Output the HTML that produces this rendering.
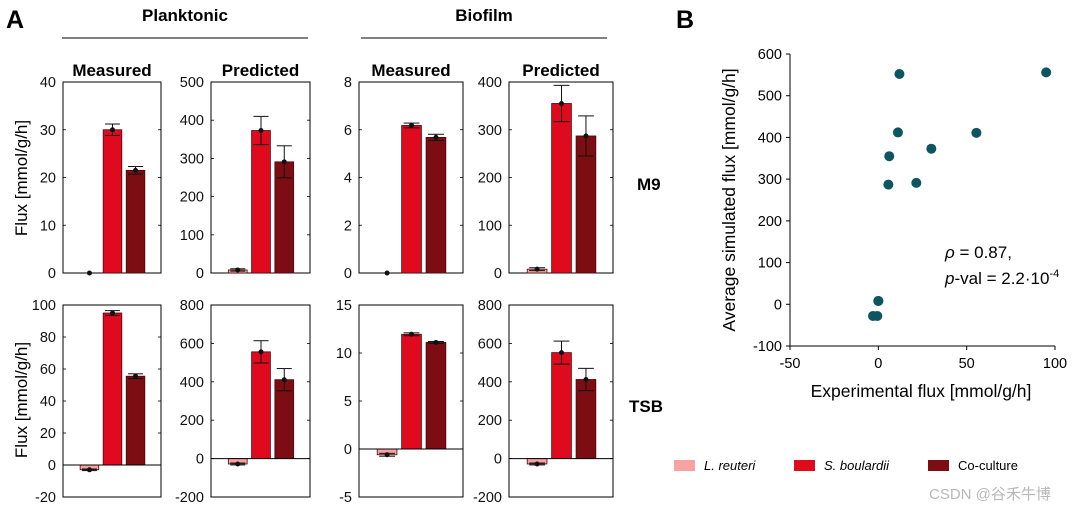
<!DOCTYPE html>
<html><head><meta charset="utf-8">
<style>
body{margin:0;background:#fff;}
svg{display:block;font-family:"Liberation Sans","Noto Sans CJK SC",sans-serif;}
</style></head>
<body>
<svg id="fig" width="1080" height="512" viewBox="0 0 1080 512" xmlns="http://www.w3.org/2000/svg">
<text x="6" y="28" font-size="25" font-weight="bold">A</text>
<text x="676" y="28" font-size="25" font-weight="bold">B</text>
<text x="185" y="21" font-size="17" font-weight="bold" text-anchor="middle">Planktonic</text>
<line x1="62" y1="38" x2="308" y2="38" stroke="#000" stroke-width="1"/>
<text x="484" y="21" font-size="17" font-weight="bold" text-anchor="middle">Biofilm</text>
<line x1="361" y1="38" x2="607" y2="38" stroke="#000" stroke-width="1"/>
<text x="637" y="190" font-size="17" font-weight="bold">M9</text>
<text x="629" y="412" font-size="17" font-weight="bold">TSB</text>
<text transform="translate(27,178) rotate(-90)" font-size="17" text-anchor="middle">Flux [mmol/g/h]</text>
<text transform="translate(27,400) rotate(-90)" font-size="17" text-anchor="middle">Flux [mmol/g/h]</text>
<g id="bars"></g>
<g id="scatter"></g>
<g>
<rect x="674" y="460" width="21" height="11" fill="#f7a3a1"/>
<text x="704" y="470" font-size="13" font-style="italic">L. reuteri</text>
<rect x="794" y="460" width="21" height="11" fill="#df0a1e"/>
<text x="824" y="470" font-size="13" font-style="italic">S. boulardii</text>
<rect x="928" y="460" width="21" height="11" fill="#7b0d13"/>
<text x="958" y="470" font-size="13">Co-culture</text>
</g>
<text x="929" y="499" font-size="15" fill="#b8b8b8">CSDN @谷禾牛博</text>
</svg>
<script>
const NS="http://www.w3.org/2000/svg";
const colors=["#f7a3a1","#df0a1e","#7b0d13"];
// bar data per panel: [L. reuteri, S. boulardii, Co-culture]
const pmM9Vals=[0,30,21.5];      const pmM9Err=[0,1.2,0.8];
const ppM9Vals=[8,373,291];      const ppM9Err=[3,37,42];
const bmM9Vals=[0,6.18,5.68];    const bmM9Err=[0,0.1,0.13];
const bpM9Vals=[8,355,287];      const bpM9Err=[3,38,42];
const pmTsbVals=[-3,95,55.5];    const pmTsbErr=[0.5,1.5,1.5];
const ppTsbVals=[-28,556,411];   const ppTsbErr=[5,58,58];
const bmTsbVals=[-0.6,11.95,11.1]; const bmTsbErr=[0.15,0.15,0.1];
const bpTsbVals=[-28,552,412];   const bpTsbErr=[5,60,58];
const pmM9Ticks=[0,10,20,30,40];
const ppM9Ticks=[0,100,200,300,400,500];
const bmM9Ticks=[0,2,4,6,8];
const bpM9Ticks=[0,100,200,300,400];
const pmTsbTicks=[-20,0,20,40,60,80,100];
const ppTsbTicks=[-200,0,200,400,600,800];
const bmTsbTicks=[-5,0,5,10,15];
const bpTsbTicks=[-200,0,200,400,600,800];
// scatter data
const expFlux=[0,30,21.5,0,6.18,5.68,-3,95,55.5,-0.6,11.95,11.1];
const simFlux=[8,373,291,8,355,287,-28,556,411,-28,552,412];
const scatterXTicks=[-50,0,50,100];
const scatterYTicks=[-100,0,100,200,300,400,500,600];

function mk(tag,attrs,parent){const e=document.createElementNS(NS,tag);for(const k in attrs)e.setAttribute(k,attrs[k]);parent.appendChild(e);return e;}

const panels=[
 {id:"planktonic-measured-m9",x0:63,x1:161,y0:82,y1:273,vals:pmM9Vals,err:pmM9Err,ticks:pmM9Ticks,title:"Measured"},
 {id:"planktonic-predicted-m9",x0:211,x1:310,y0:82,y1:273,vals:ppM9Vals,err:ppM9Err,ticks:ppM9Ticks,title:"Predicted"},
 {id:"biofilm-measured-m9",x0:359,x1:463,y0:82,y1:273,vals:bmM9Vals,err:bmM9Err,ticks:bmM9Ticks,title:"Measured"},
 {id:"biofilm-predicted-m9",x0:509,x1:613,y0:82,y1:273,vals:bpM9Vals,err:bpM9Err,ticks:bpM9Ticks,title:"Predicted"},
 {id:"planktonic-measured-tsb",x0:63,x1:161,y0:305,y1:497,vals:pmTsbVals,err:pmTsbErr,ticks:pmTsbTicks},
 {id:"planktonic-predicted-tsb",x0:211,x1:310,y0:305,y1:497,vals:ppTsbVals,err:ppTsbErr,ticks:ppTsbTicks},
 {id:"biofilm-measured-tsb",x0:359,x1:463,y0:305,y1:497,vals:bmTsbVals,err:bmTsbErr,ticks:bmTsbTicks},
 {id:"biofilm-predicted-tsb",x0:509,x1:613,y0:305,y1:497,vals:bpTsbVals,err:bpTsbErr,ticks:bpTsbTicks}
];
const barsG=document.getElementById("bars");
const names=["l-reuteri","s-boulardii","co-culture"];
panels.forEach(p=>{
 const g=mk("g",{},barsG);
 
 
 const lo=p.ticks[0],hi=p.ticks[p.ticks.length-1];
 const y=v=>p.y1-(v-lo)/(hi-lo)*(p.y1-p.y0);
 const w=p.x1-p.x0;
 const xc=i=>p.x0+w*(0.27+0.235*i);
 const bw=w*0.19;
 if(p.title){const t=mk("text",{x:(p.x0+p.x1)/2,y:p.y0-6,"font-size":17,"font-weight":"bold","text-anchor":"middle"},g);t.textContent=p.title;
  
  }
 p.ticks.forEach(v=>{
  const t=mk("text",{x:p.x0-7,y:y(v)+5,"font-size":14.5,"text-anchor":"end",fill:"#111"},g);t.textContent=v;
  
  
  mk("line",{x1:p.x0,x2:p.x0+3,y1:y(v),y2:y(v),stroke:"#000","stroke-width":0.8},g);
  mk("line",{x1:p.x1-3,x2:p.x1,y1:y(v),y2:y(v),stroke:"#000","stroke-width":0.8},g);
 });
 const fr=mk("rect",{x:p.x0,y:p.y0,width:w,height:p.y1-p.y0,fill:"none",stroke:"#000","stroke-width":1},g);
 
 
 p.vals.forEach((v,i)=>{
  const top=Math.min(y(v),y(0)),h=Math.abs(y(v)-y(0));
  const r=mk("rect",{x:xc(i)-bw/2,y:top,width:bw,height:h,fill:colors[i],stroke:"#4a0a0a","stroke-width":0.8},g);
  
  
  const e=p.err[i];
  if(e>0){
   mk("line",{x1:xc(i),x2:xc(i),y1:y(v+e),y2:y(v-e),stroke:"#111","stroke-width":1},g);
   [v+e,v-e].forEach(c=>mk("line",{x1:xc(i)-bw*0.4,x2:xc(i)+bw*0.4,y1:y(c),y2:y(c),stroke:"#111","stroke-width":1},g));
  }
  const d=mk("circle",{cx:xc(i),cy:y(v),r:2.5,fill:"#111"},g);
  
  
 });
 if(lo<0) mk("line",{x1:p.x0,x2:p.x1,y1:y(0),y2:y(0),stroke:"#000","stroke-width":1},g);
});

// scatter
const sg=document.getElementById("scatter");
const sx0=790,sx1=1055,sy0=54,sy1=346;
const sxs=v=>sx0+(v-scatterXTicks[0])/(scatterXTicks[scatterXTicks.length-1]-scatterXTicks[0])*(sx1-sx0);
const sys=v=>sy1-(v-scatterYTicks[0])/(scatterYTicks[scatterYTicks.length-1]-scatterYTicks[0])*(sy1-sy0);
mk("line",{x1:sx0,x2:sx0,y1:sy0,y2:sy1,stroke:"#000","stroke-width":1},sg);
mk("line",{x1:sx0,x2:sx1,y1:sy1,y2:sy1,stroke:"#000","stroke-width":1},sg);
scatterYTicks.forEach(v=>{
 mk("line",{x1:sx0-4,x2:sx0,y1:sys(v),y2:sys(v),stroke:"#000","stroke-width":1},sg);
 const t=mk("text",{x:sx0-8,y:sys(v)+5,"font-size":14.5,"text-anchor":"end"},sg);t.textContent=v;
 
 
});
scatterXTicks.forEach(v=>{
 mk("line",{x1:sxs(v),x2:sxs(v),y1:sy1,y2:sy1+4,stroke:"#000","stroke-width":1},sg);
 const t=mk("text",{x:sxs(v),y:sy1+22,"font-size":14.5,"text-anchor":"middle"},sg);t.textContent=v;
 
 
});
expFlux.forEach((v,i)=>{
 const c=mk("circle",{cx:sxs(v),cy:sys(simFlux[i]),r:5,fill:"#0e5562"},sg);
 
 
});
const xt=mk("text",{x:921,y:397,"font-size":17.5,"text-anchor":"middle"},sg);xt.textContent="Experimental flux [mmol/g/h]";


const yt=mk("text",{transform:"translate(735,200) rotate(-90)","font-size":17.5,"text-anchor":"middle"},sg);yt.textContent="Average simulated flux [mmol/g/h]";


const a1=mk("text",{x:945,y:258,"font-size":17},sg);a1.innerHTML='<tspan font-style="italic">ρ</tspan> = 0.87,';


const a2=mk("text",{x:945,y:284,"font-size":17},sg);a2.innerHTML='<tspan font-style="italic">p</tspan>-val = 2.2·10<tspan font-size="11" dy="-7">-4</tspan>';


</script>
</body></html>
